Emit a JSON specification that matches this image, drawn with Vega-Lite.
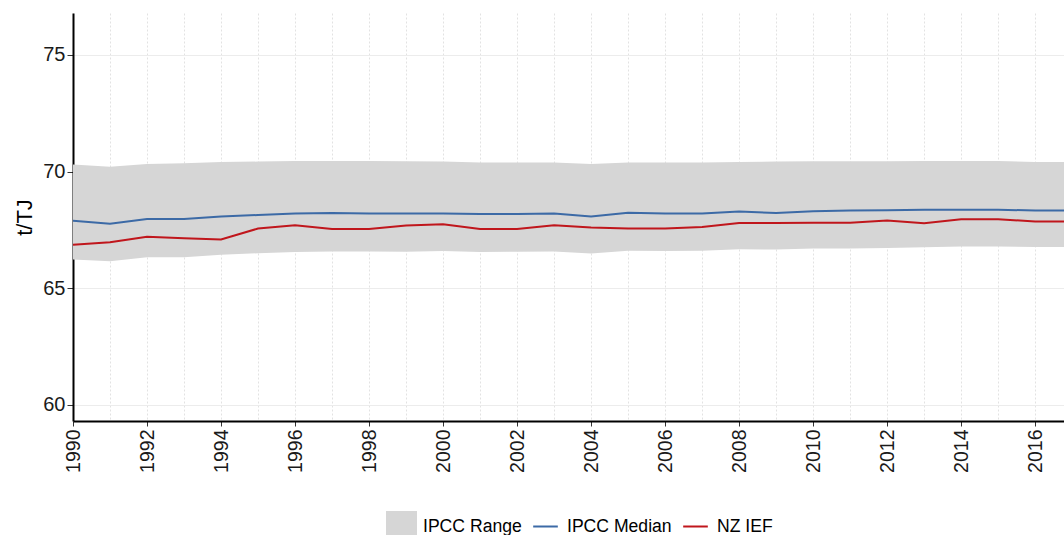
{
  "$schema": "https://vega.github.io/schema/vega-lite/v6.json",
  "width": 991,
  "height": 408,
  "autosize": {"type": "none"},
  "padding": {"left": 73, "top": 13, "right": 0, "bottom": 114},
  "background": "white",
  "config": {
    "font": "Liberation Sans",
    "view": {"stroke": null},
    "axis": {"labelFont": "Liberation Sans", "titleFont": "Liberation Sans"},
    "legend": {
      "orient": "none",
      "direction": "horizontal",
      "legendX": 313,
      "legendY": 498,
      "labelFontSize": 17.6,
      "labelColor": "#000000",
      "labelFont": "Liberation Sans",
      "labelOffset": 6,
      "columnPadding": 5,
      "symbolSize": 840,
      "symbolStrokeWidth": 2,
      "titleFontSize": 0,
      "titlePadding": 0
    }
  },
  "data": {
    "values": [
      {"year": 1990, "lo": 66.23, "hi": 70.31, "IPCC Median": 67.89, "NZ IEF": 66.86},
      {"year": 1991, "lo": 66.16, "hi": 70.21, "IPCC Median": 67.77, "NZ IEF": 66.97},
      {"year": 1992, "lo": 66.33, "hi": 70.33, "IPCC Median": 67.97, "NZ IEF": 67.21},
      {"year": 1993, "lo": 66.33, "hi": 70.36, "IPCC Median": 67.97, "NZ IEF": 67.14},
      {"year": 1994, "lo": 66.44, "hi": 70.41, "IPCC Median": 68.08, "NZ IEF": 67.09},
      {"year": 1995, "lo": 66.5, "hi": 70.43, "IPCC Median": 68.14, "NZ IEF": 67.56},
      {"year": 1996, "lo": 66.56, "hi": 70.46, "IPCC Median": 68.2, "NZ IEF": 67.7},
      {"year": 1997, "lo": 66.58, "hi": 70.46, "IPCC Median": 68.23, "NZ IEF": 67.54},
      {"year": 1998, "lo": 66.58, "hi": 70.46, "IPCC Median": 68.2, "NZ IEF": 67.54},
      {"year": 1999, "lo": 66.57, "hi": 70.44, "IPCC Median": 68.2, "NZ IEF": 67.69},
      {"year": 2000, "lo": 66.6, "hi": 70.43, "IPCC Median": 68.2, "NZ IEF": 67.74},
      {"year": 2001, "lo": 66.56, "hi": 70.39, "IPCC Median": 68.18, "NZ IEF": 67.54},
      {"year": 2002, "lo": 66.57, "hi": 70.39, "IPCC Median": 68.18, "NZ IEF": 67.54},
      {"year": 2003, "lo": 66.58, "hi": 70.39, "IPCC Median": 68.2, "NZ IEF": 67.7},
      {"year": 2004, "lo": 66.49, "hi": 70.33, "IPCC Median": 68.08, "NZ IEF": 67.6},
      {"year": 2005, "lo": 66.61, "hi": 70.39, "IPCC Median": 68.24, "NZ IEF": 67.56},
      {"year": 2006, "lo": 66.6, "hi": 70.39, "IPCC Median": 68.2, "NZ IEF": 67.56},
      {"year": 2007, "lo": 66.61, "hi": 70.39, "IPCC Median": 68.2, "NZ IEF": 67.63},
      {"year": 2008, "lo": 66.67, "hi": 70.41, "IPCC Median": 68.29, "NZ IEF": 67.8},
      {"year": 2009, "lo": 66.66, "hi": 70.43, "IPCC Median": 68.23, "NZ IEF": 67.8},
      {"year": 2010, "lo": 66.7, "hi": 70.44, "IPCC Median": 68.3, "NZ IEF": 67.81},
      {"year": 2011, "lo": 66.71, "hi": 70.44, "IPCC Median": 68.33, "NZ IEF": 67.81},
      {"year": 2012, "lo": 66.73, "hi": 70.44, "IPCC Median": 68.34, "NZ IEF": 67.91},
      {"year": 2013, "lo": 66.76, "hi": 70.46, "IPCC Median": 68.37, "NZ IEF": 67.79},
      {"year": 2014, "lo": 66.79, "hi": 70.46, "IPCC Median": 68.37, "NZ IEF": 67.96},
      {"year": 2015, "lo": 66.79, "hi": 70.46, "IPCC Median": 68.37, "NZ IEF": 67.96},
      {"year": 2016, "lo": 66.77, "hi": 70.41, "IPCC Median": 68.33, "NZ IEF": 67.86},
      {"year": 2017, "lo": 66.77, "hi": 70.41, "IPCC Median": 68.33, "NZ IEF": 67.86}
    ]
  },
  "encoding": {
    "x": {
      "field": "year",
      "type": "quantitative",
      "scale": {"domain": [1990, 2016.78], "nice": false, "zero": false},
      "axis": {
        "title": null,
        "values": [1990,1991,1992,1993,1994,1995,1996,1997,1998,1999,2000,2001,2002,2003,2004,2005,2006,2007,2008,2009,2010,2011,2012,2013,2014,2015,2016],
        "labelExpr": "datum.value % 2 === 0 ? '' + datum.value : ''",
        "format": "d",
        "labelAngle": 270,
        "labelFontSize": 19.5,
        "labelColor": "#1a1a1a",
        "labelPadding": 3,
        "labelOverlap": false,
        "labelBound": false,
        "labelFlush": false,
        "tickSize": 5,
        "tickColor": "#333333",
        "tickOpacity": {"condition": {"test": "datum.value % 2 === 1", "value": 0}, "value": 1},
        "domainColor": "#000000",
        "domainWidth": 2,
        "grid": true,
        "gridColor": "#e2e2e2",
        "gridDash": [2, 2],
        "gridWidth": 1
      }
    }
  },
  "layer": [
    {
      "mark": {"type": "area", "clip": true, "opacity": 1},
      "encoding": {
        "y": {
          "field": "lo",
          "type": "quantitative",
          "scale": {"domain": [59.31, 76.8], "nice": false, "zero": false},
          "axis": {
            "title": "t/TJ",
            "titleFontSize": 22,
            "titleFontWeight": "normal",
            "titleColor": "#000000",
            "titlePadding": 6,
            "values": [60, 65, 70, 75],
            "labelFontSize": 20,
            "labelColor": "#1a1a1a",
            "labelPadding": 2,
            "tickSize": 6,
            "tickColor": "#333333",
            "domainColor": "#000000",
            "domainWidth": 2,
            "grid": true,
            "gridColor": "#ececec",
            "gridWidth": 1.2
          }
        },
        "y2": {"field": "hi"},
        "color": {
          "datum": "IPCC Range",
          "type": "nominal",
          "scale": {
            "domain": ["IPCC Range", "IPCC Median", "NZ IEF"],
            "range": ["#d6d6d6", "#3c6aa6", "#c0161c"]
          },
          "legend": {
            "title": null,
            "encode": {
              "symbols": {
                "update": {
                  "shape": [{"test": "datum.value === 'IPCC Range'", "value": "square"}, {"value": "M-1,-1M1,1M-0.85,0L0.85,0"}],
                  "fill": [{"test": "datum.value === 'IPCC Range'", "value": "#d6d6d6"}, {"value": "transparent"}],
                  "stroke": [{"test": "datum.value === 'IPCC Range'", "value": "transparent"}, {"test": "datum.value === 'IPCC Median'", "value": "#3c6aa6"}, {"value": "#c0161c"}],
                  "strokeWidth": {"value": 2},
                  "opacity": {"value": 1}
                }
              }
            }
          }
        }
      }
    },
    {
      "transform": [{"fold": ["IPCC Median", "NZ IEF"], "as": ["series", "value"]}],
      "mark": {"type": "line", "clip": true, "strokeWidth": 2},
      "encoding": {
        "y": {"field": "value", "type": "quantitative"},
        "color": {
          "field": "series",
          "type": "nominal",
          "legend": {
            "title": null,
            "encode": {
              "symbols": {
                "update": {
                  "shape": [{"test": "datum.value === 'IPCC Range'", "value": "square"}, {"value": "M-1,-1M1,1M-0.85,0L0.85,0"}],
                  "fill": [{"test": "datum.value === 'IPCC Range'", "value": "#d6d6d6"}, {"value": "transparent"}],
                  "stroke": [{"test": "datum.value === 'IPCC Range'", "value": "transparent"}, {"test": "datum.value === 'IPCC Median'", "value": "#3c6aa6"}, {"value": "#c0161c"}],
                  "strokeWidth": {"value": 2},
                  "opacity": {"value": 1}
                }
              }
            }
          }
        }
      }
    }
  ]
}
